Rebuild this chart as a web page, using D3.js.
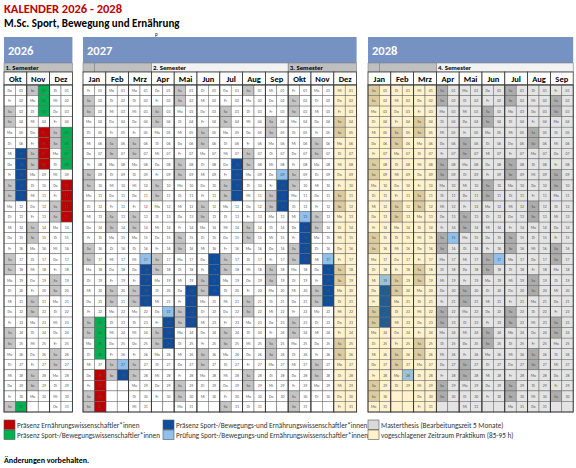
<!DOCTYPE html>
<html>
<head>
<meta charset="utf-8">
<script src="https://cdn.jsdelivr.net/npm/d3@7"></script>
<style>
  body { margin: 0; background: #fff; }
  svg { font-family: Calibri, Carlito, "Liberation Sans", "Open Sans", sans-serif; }
</style>
</head>
<body>
<div id="chart"></div>
<script>
const monthNames = ["Jan", "Feb", "Mrz", "Apr", "Mai", "Jun", "Jul", "Aug", "Sep", "Okt", "Nov", "Dez"];
const dayNames = ["So", "Mo", "Di", "Mi", "Do", "Fr", "Sa"];

const years = [2026, 2027, 2028];
const yearMonths = [[9, 10, 11], [0, 1, 2, 3, 4, 5, 6, 7, 8, 9, 10, 11], [0, 1, 2, 3, 4, 5, 6, 7, 8]];

// semester bars: [from month index, to month index, label, grey?]
const semesters = [
  [[0, 3, "1. Semester", true]],
  [[0, 0.5, "", true], [0.5, 3, "", true], [3, 9, "2. Semester", false], [9, 12, "3. Semester", true]],
  [[0, 0.5, "", true], [0.5, 3, "", true], [3, 9, "4. Semester", false]]
];

const redDays = [["2026-11-05", "2026-11-08"], ["2026-12-10", "2026-12-13"], ["2027-01-28", "2027-01-31"]];
const greenDays = [["2026-10-31", "2026-11-03"], ["2026-12-05", "2026-12-08"], ["2027-01-23", "2027-01-26"]];
const blueDays = [["2026-10-07", "2026-10-11"], ["2027-02-28", "2027-02-28"], ["2027-03-18", "2027-03-21"],
  ["2027-04-23", "2027-04-25"], ["2027-05-20", "2027-05-23"], ["2027-06-17", "2027-06-20"],
  ["2027-07-08", "2027-07-11"], ["2027-09-10", "2027-09-12"], ["2027-10-14", "2027-10-17"],
  ["2027-11-18", "2027-11-21"], ["2028-01-20", "2028-01-23"]];
const examDays = ["2027-02-27", "2027-03-17", "2027-04-22", "2027-09-09", "2027-10-13", "2027-11-17",
  "2028-01-19", "2028-02-28", "2028-04-15", "2028-06-17"];
const praktikumMonths = ["2027-12", "2028-01", "2028-02", "2028-03"];
const thesisMonths = ["2028-04", "2028-05", "2028-06", "2028-07", "2028-08", "2028-09"];

const legendItems = [
  ["#c00000", "Präsenz Ernährungswissenschaftler*innen"],
  ["#00b050", "Präsenz Sport-/Bewegungswissenschaftler*innen"],
  ["#0f4c9c", "Präsenz Sport-/Bewegungs-und Ernährungswissenschaftler*innen"],
  ["#8fc0ee", "Prüfung Sport-/Bewegungs-und Ernährungswissenschaftler*innen"],
  ["#d9d9d9", "Masterthesis (Bearbeitungszeit 5 Monate)"],
  ["#fff2cc", "vogeschlagener Zeitraum Praktikum (85-95 h)"]
];

const blockX = [4, 83, 368];
const monthW = 22.8;
const gridTop = 85, gridBottom = 412;

const W = 576, H = 468;
const svg = d3.select("#chart").append("svg").attr("width", W).attr("height", H);

const pad = n => String(n).padStart(2, "0");
const key = (y, m, d) => `${y}-${pad(m + 1)}-${pad(d)}`;
const inRanges = (k, ranges) => ranges.some(([a, b]) => k >= a && k <= b);

const yRow = d3.scaleBand().domain(d3.range(1, 32)).range([gridTop, gridBottom]);

svg.append("text").attr("x", 4).attr("y", 13).attr("fill", "#c00000")
  .attr("font-size", 12.5).attr("font-weight", "bold").text("KALENDER 2026 - 2028");
svg.append("text").attr("x", 4).attr("y", 27).attr("fill", "#000")
  .attr("font-size", 11).attr("font-weight", "bold").text("M.Sc. Sport, Bewegung und Ernährung");
svg.append("text").attr("x", 155).attr("y", 36).attr("font-size", 5).text("p");

years.forEach((year, bi) => {
  const months = yearMonths[bi];
  const x0 = blockX[bi], x1 = x0 + months.length * monthW;
  const xMonth = d3.scaleBand().domain(months).range([x0, x1]);
  const g = svg.append("g");

  g.append("rect").attr("x", x0).attr("y", 37).attr("width", x1 - x0).attr("height", 26).attr("fill", "#7692c3");
  g.append("text").attr("x", x0 + 4).attr("y", 55).attr("fill", "#fff")
    .attr("font-size", 12.5).attr("font-weight", "bold").text(year);

  const xs = d3.scaleLinear().domain([0, months.length]).range([x0, x1]);
  semesters[bi].forEach(([a, b, label, grey]) => {
    g.append("rect").attr("x", xs(a)).attr("y", 63).attr("width", xs(b) - xs(a)).attr("height", 9)
      .attr("fill", grey ? "#bfbfbf" : "#f2f2f2").attr("stroke", "#7f7f7f").attr("stroke-width", 0.6);
    if (label) g.append("text").attr("x", xs(a) + 1.5).attr("y", 70.3).attr("font-size", 6.8)
      .attr("font-weight", "bold").text(label);
  });

  months.forEach(m => {
    const mx = xMonth(m), mw = xMonth.bandwidth();
    const mk = `${year}-${pad(m + 1)}`;
    const zone = praktikumMonths.includes(mk) ? "p" : thesisMonths.includes(mk) ? "t" : "n";
    const base = { n: "#ffffff", p: "#fff2cc", t: "#e4e4e4" }[zone];
    const wkend = { n: "#c4c4c4", p: "#dccb9e", t: "#acacac" }[zone];
    const nDays = new Date(year, m + 1, 0).getDate();

    g.append("rect").attr("x", mx).attr("y", 72).attr("width", mw).attr("height", gridTop - 72)
      .attr("fill", "#fff").attr("stroke", "#333").attr("stroke-width", 0.8);
    g.append("text").attr("x", mx + mw / 2).attr("y", 82).attr("text-anchor", "middle")
      .attr("font-size", 8.5).attr("font-weight", "bold").text(monthNames[m]);

    const days = d3.range(1, 32).map(d => ({ d, exists: d <= nDays, wd: new Date(year, m, d).getDay(), k: key(year, m, d) }));
    const cw = mw / 2;

    const rows = g.selectAll(null).data(days).enter().append("g");
    rows.append("rect").attr("x", mx).attr("y", d => yRow(d.d)).attr("width", cw).attr("height", yRow.bandwidth())
      .attr("fill", d => d.exists && (d.wd === 0 || d.wd === 6) ? wkend : base)
      .attr("stroke", "#666").attr("stroke-width", 0.5);
    rows.append("rect").attr("x", mx + cw).attr("y", d => yRow(d.d)).attr("width", cw).attr("height", yRow.bandwidth())
      .attr("fill", d => {
        if (!d.exists) return base;
        if (inRanges(d.k, redDays)) return "#c00000";
        if (inRanges(d.k, greenDays)) return "#00b050";
        if (inRanges(d.k, blueDays)) return zone === "p" ? "#1f5e8e" : "#0f4c9c";
        if (examDays.includes(d.k)) return zone === "p" ? "#9cc4d8" : "#8fc0ee";
        return base;
      })
      .attr("stroke", "#666").attr("stroke-width", 0.5);
    rows.filter(d => d.exists).append("text").attr("x", mx + cw / 2).attr("y", d => yRow(d.d) + 6.8)
      .attr("text-anchor", "middle").attr("font-size", 3.8).attr("fill", "#555").text(d => dayNames[d.wd]);
    rows.filter(d => d.exists).append("text").attr("x", mx + cw * 1.5).attr("y", d => yRow(d.d) + 6.8)
      .attr("text-anchor", "middle").attr("font-size", 3.8).attr("fill", "#555").text(d => pad(d.d));

    g.append("rect").attr("x", mx).attr("y", gridTop).attr("width", mw).attr("height", gridBottom - gridTop)
      .attr("fill", "none").attr("stroke", "#333").attr("stroke-width", 0.9);
  });
});

const legX = [4, 163, 368];
legendItems.forEach(([c, label], i) => {
  const x = legX[Math.floor(i / 2)], y = 420 + (i % 2) * 10;
  svg.append("rect").attr("x", x).attr("y", y).attr("width", 11).attr("height", 9.5)
    .attr("fill", c).attr("stroke", "#555").attr("stroke-width", 0.6);
  svg.append("text").attr("x", x + 13).attr("y", y + 7.5).attr("font-size", 7.2).attr("fill", "#333").text(label);
});

svg.append("text").attr("x", 4).attr("y", 463).attr("font-size", 8).attr("font-weight", "bold").text("Änderungen vorbehalten.");
</script>
</body>
</html>
